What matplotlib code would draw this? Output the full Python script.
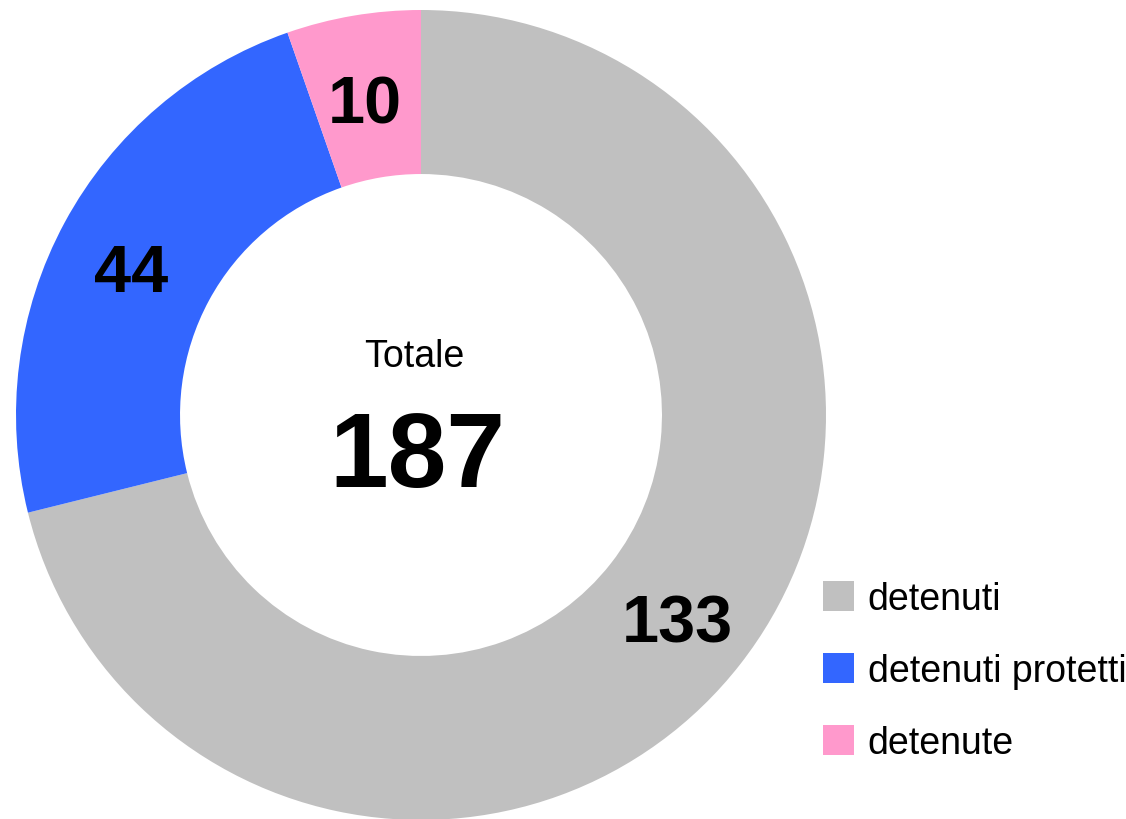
import matplotlib
matplotlib.use("Agg")
import matplotlib.pyplot as plt

# dati
labels = ["detenuti", "detenuti protetti", "detenute"]
values = [133, 44, 10]
colors = ["#C0C0C0", "#3366FF", "#FF99CC"]
totale = sum(values)

# posizioni delle etichette (coordinate dati)
label_pos = [(0.632, -0.560), (-0.715, 0.306), (-0.138, 0.723)]

plt.rcParams["font.family"] = ["Liberation Sans", "DejaVu Sans"]

fig = plt.figure(figsize=(11.26, 8.2), dpi=100)
ax = fig.add_axes([16 / 1126, -1 / 820, 810 / 1126, 810 / 820])

wedges, _ = ax.pie(values, colors=colors, startangle=90, counterclock=False,
                   radius=1.0, wedgeprops=dict(width=0.405, edgecolor="none"))

for v, (x, y) in zip(values, label_pos):
    ax.text(x, y, str(v), ha="center", va="baseline", fontsize=48,
            fontweight="bold", color="black")

ax.text(-0.017, 0.121, "Totale", ha="center", va="baseline", fontsize=27)
ax.text(-0.01, -0.175, str(totale), ha="center", va="baseline", fontsize=76,
        fontweight="bold")

ax.set_xlim(-1, 1)
ax.set_ylim(-1, 1)
ax.set_aspect("equal")
ax.axis("off")

fig.legend(wedges, labels, loc="upper left",
           bbox_to_anchor=(823 / 1126, 1 - 582 / 820),
           frameon=False, fontsize=27, handlelength=0.82, handleheight=0.82,
           handletextpad=0.37, labelspacing=0.96, borderpad=0, borderaxespad=0)

fig.savefig("out.png", dpi=100)
